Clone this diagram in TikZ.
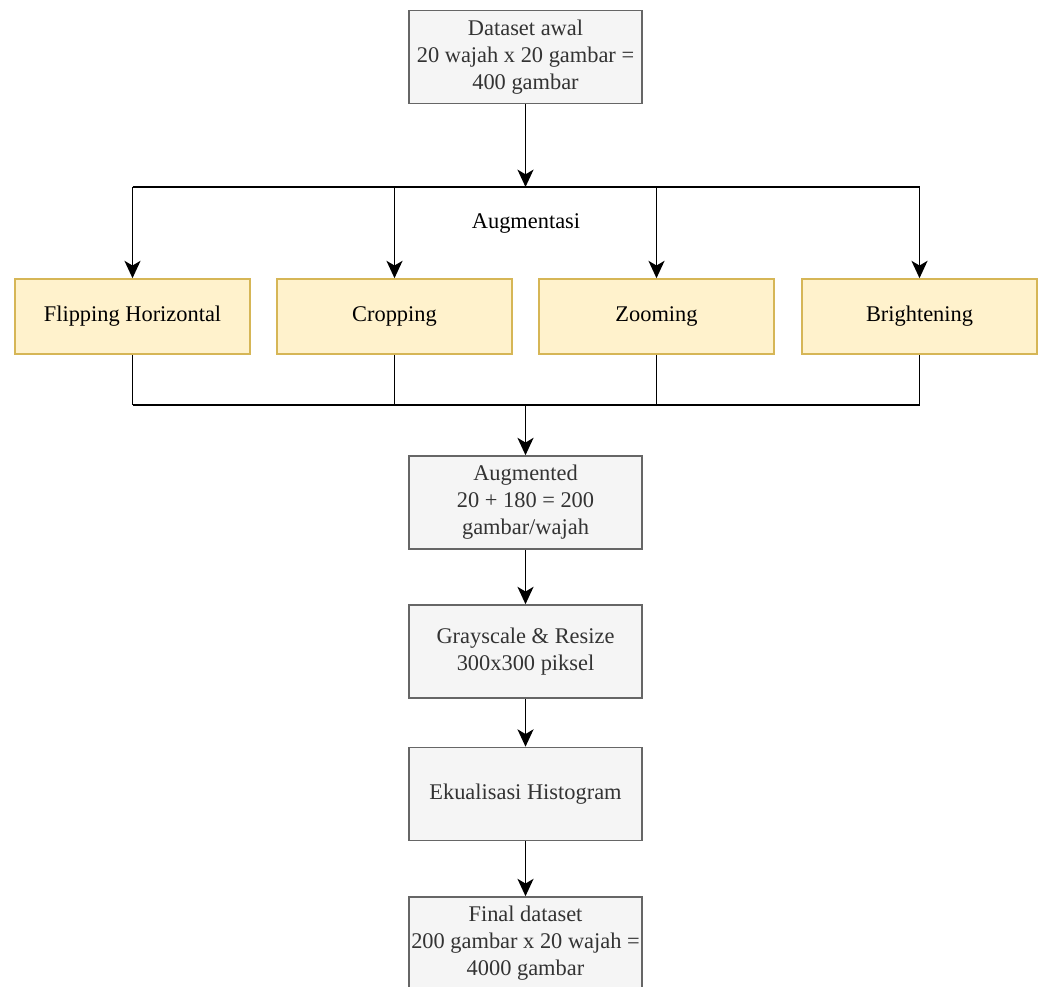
\documentclass[tikz,border=0pt]{standalone}
\usepackage{fontspec}
\setmainfont{Liberation Serif}
\newfontfamily\tnr{Liberation Serif}
\usetikzlibrary{arrows.meta}
\definecolor{greyfill}{HTML}{F5F5F5}
\definecolor{greyline}{HTML}{666666}
\definecolor{greytext}{HTML}{333333}
\definecolor{yelfill}{HTML}{FFF2CC}
\definecolor{yelline}{HTML}{D6B656}
\begin{document}
\begin{tikzpicture}[x=0.75pt,y=-0.75pt,
  every node/.style={font=\tnr\fontsize{16.8pt}{20.3pt}\selectfont},
  greybox/.style={draw=greyline,fill=greyfill,text=greytext,line width=1.2pt,
    minimum width=233*0.75pt,minimum height=93*0.75pt,inner sep=0pt,align=center},
  yelbox/.style={draw=yelline,fill=yelfill,text=black,line width=1.2pt,
    minimum width=235*0.75pt,minimum height=75*0.75pt,inner sep=0pt,align=center},
  conn/.style={line width=1.4pt,black},
  arr/.style={conn,-{Stealth[length=13pt,width=12pt,inset=3.5pt]}}]
\useasboundingbox (0,0) rectangle (1041,987);
\clip (0,0) rectangle (1041,987);
\fill[white] (0,0) rectangle (1041,987);

\node[greybox] (awal) at (525.5,57) {Dataset awal\\20 wajah x 20 gambar =\\400 gambar};

\coordinate (jtop) at (525.5,187);
\coordinate (jtl) at (132.5,187);
\coordinate (jtr) at (919.5,187);

\node[yelbox] (flip) at (132.5,316.5) {Flipping Horizontal};
\node[yelbox] (crop) at (394.5,316.5) {Cropping};
\node[yelbox] (zoom) at (656.5,316.5) {Zooming};
\node[yelbox] (bright) at (919.5,316.5) {Brightening};

\node[text=black] (auglabel) at (526,224) {Augmentasi};

\coordinate (jbot) at (525.5,405);
\coordinate (jbl) at (132.5,405);
\coordinate (jbr) at (919.5,405);

\node[greybox] (augd) at (525.5,502.5) {Augmented\\20 + 180 = 200\\gambar/wajah};
\node[greybox] (gray) at (525.5,651.5) {Grayscale \& Resize\\300x300 piksel};
\node[greybox] (eku) at (525.5,794) {Ekualisasi Histogram};
\node[greybox] (final) at (525.5,943.5) {Final dataset\\200 gambar x 20 wajah =\\4000 gambar};

% top connectors
\draw[arr] (awal.south) -- (jtop);
\draw[conn] (jtl) -- (jtr);
\draw[arr] (jtl) -- (flip.north);
\draw[arr] (crop.north |- jtop) -- (crop.north);
\draw[arr] (zoom.north |- jtop) -- (zoom.north);
\draw[arr] (jtr) -- (bright.north);

% bottom connectors
\draw[conn] (flip.south) -- (jbl);
\draw[conn] (crop.south) -- (crop.south |- jbot);
\draw[conn] (zoom.south) -- (zoom.south |- jbot);
\draw[conn] (bright.south) -- (jbr);
\draw[conn] (jbl) -- (jbr);
\draw[arr] (jbot) -- (augd.north);

\draw[arr] (augd.south) -- (gray.north);
\draw[arr] (gray.south) -- (eku.north);
\draw[arr] (eku.south) -- (final.north);
\end{tikzpicture}
\end{document}
